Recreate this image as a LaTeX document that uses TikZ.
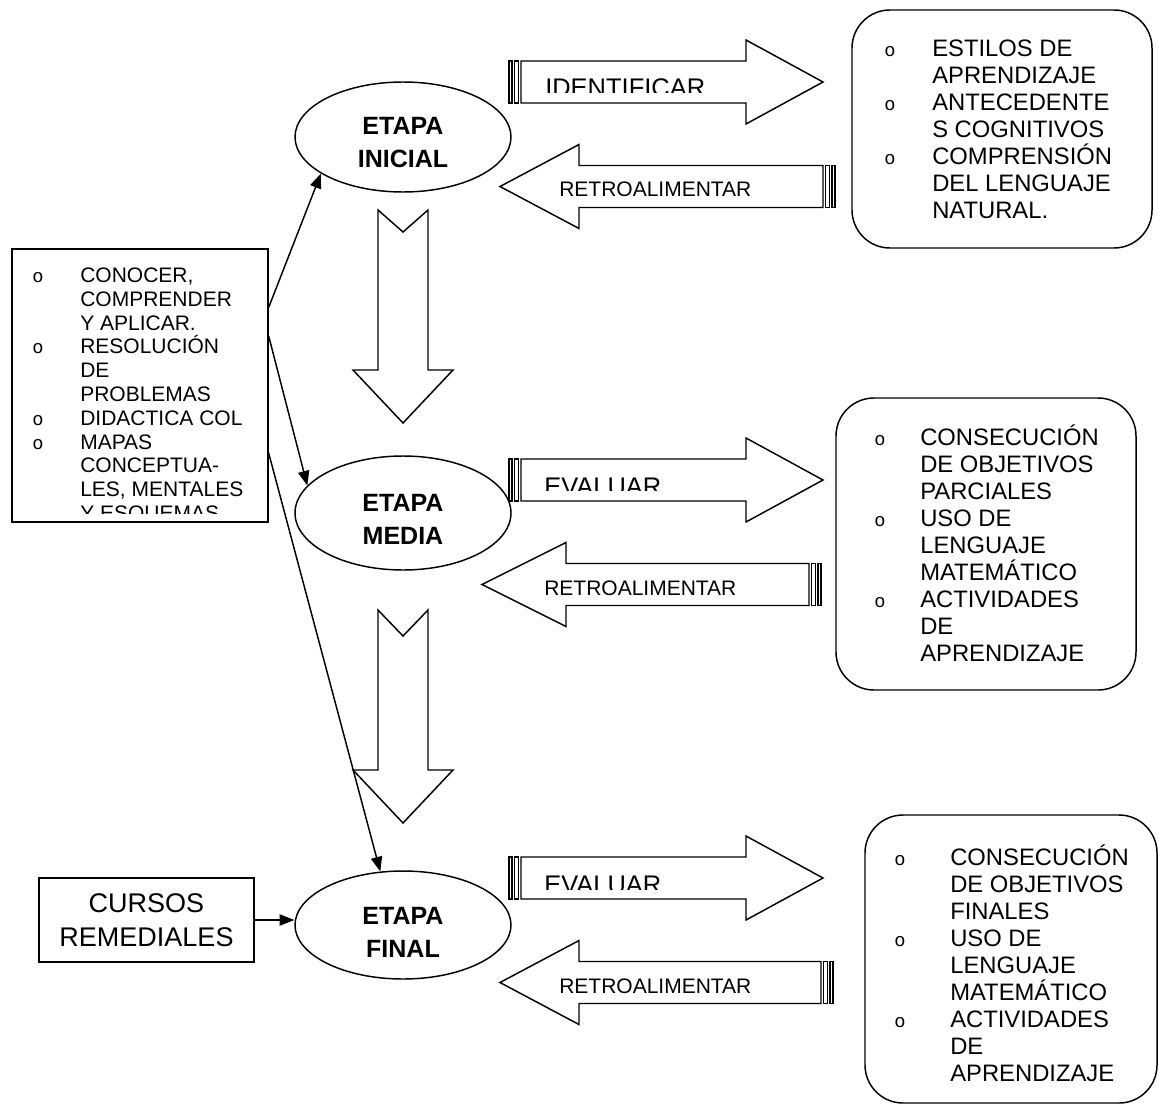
\documentclass[tikz,border=0pt]{standalone}
\usepackage{fontspec}
\setmainfont{Liberation Sans}
\newfontfamily\monof{Liberation Mono}
\usetikzlibrary{shapes.geometric,arrows.meta,calc}
\tikzset{
  ol/.style={line width=1.1pt, line join=miter},
  conn/.style={line width=1.1pt, -{Triangle[length=11pt,width=8.5pt]}},
  ell/.style={ellipse, draw, line width=1.1pt, inner sep=0pt, minimum width={216*0.75pt}},
  etxt/.style={anchor=base, inner sep=0pt, font=\bfseries\fontsize{18.75}{20}\selectfont},
  ltxt/.style={anchor=base west, inner sep=0pt, font=\fontsize{15.75}{18}\selectfont},
  rtxt/.style={anchor=base west, inner sep=0pt, font=\fontsize{17.85}{20}\selectfont},
  bul/.style={anchor=base, inner sep=0pt, font=\monof\fontsize{14}{16}\selectfont},
  labA/.style={anchor=base west, inner sep=0pt, font=\fontsize{19.1}{22}\selectfont},
  labB/.style={anchor=base west, inner sep=0pt, font=\fontsize{15.75}{18}\selectfont},
  rbox/.style={draw, line width=1.1pt, rounded corners=28.5pt, inner sep=0pt},
}
\newcommand\myRArrow[1]{%
  \draw[ol] (509,{#1-21}) rectangle (512,{#1+21});
  \draw[ol] (514.5,{#1-21}) rectangle (518.5,{#1+21});
  \draw[ol] (521,{#1-21}) -- (746,{#1-21}) -- (746,{#1-42}) -- (823,#1) -- (746,{#1+42}) -- (746,{#1+21}) -- (521,{#1+21}) -- cycle;}
\newcommand\myLArrow[4]{%
  \draw[ol] (#4,{#1-21}) -- (#3,{#1-21}) -- (#3,{#1-42}) -- (#2,#1) -- (#3,{#1+42}) -- (#3,{#1+21}) -- (#4,{#1+21}) -- cycle;
  \draw[ol] ({#4+2.5},{#1-21}) rectangle ({#4+6.5},{#1+21});
  \draw[ol] ({#4+9},{#1-21}) rectangle ({#4+12},{#1+21});}
\newcommand\myDArrow[2]{%
  \draw[ol] (378,#1) -- (403,{#1+#2}) -- (428,#1) -- (428,{#1+160}) -- (453,{#1+160}) -- (403,{#1+213}) -- (353,{#1+160}) -- (378,{#1+160}) -- cycle;}
\begin{document}
\begin{tikzpicture}[x=0.75pt,y=-0.75pt]
\useasboundingbox (0,0) rectangle (1159,1106);

% ---------- ellipses ----------
\node[ell, minimum height={110*0.75pt}] (e1) at (403,137) {};
\node[ell, minimum height={114*0.75pt}] (e2) at (403,513) {};
\node[ell, minimum height={108*0.75pt}] (e3) at (403,925) {};
\begin{scope}
  \clip (290,100) rectangle (520,167.5);
  \node[etxt] (e1a) at (403,134) {ETAPA};
  \node[etxt] (e1b) at (403,167) {INICIAL};
\end{scope}
\begin{scope}
  \clip (290,480) rectangle (520,543);
  \node[etxt] (e2a) at (403,511) {ETAPA};
  \node[etxt] (e2b) at (403,544) {MEDIA};
\end{scope}
\begin{scope}
  \clip (290,890) rectangle (520,957);
  \node[etxt] (e3a) at (403,924) {ETAPA};
  \node[etxt] (e3b) at (403,957) {FINAL};
\end{scope}

% ---------- down arrows ----------
\myDArrow{210}{22}
\myDArrow{610}{26}

% ---------- horizontal arrows ----------
\myRArrow{82}
\myRArrow{480}
\myRArrow{878}
\myLArrow{186.5}{500}{579}{823}
\myLArrow{584.5}{482}{566}{809}
\myLArrow{982.5}{500}{579}{821}

\begin{scope}
  \clip (521,61) rectangle (746,92);
  \node[labA] (id1) at (545,96.3) {IDENTIFICAR};
\end{scope}
\begin{scope}
  \clip (521,459) rectangle (746,490);
  \node[labA] (ev2) at (544,495.3) {EVALUAR};
\end{scope}
\begin{scope}
  \clip (521,857) rectangle (746,889);
  \node[labA] (ev3) at (544,893.3) {EVALUAR};
\end{scope}
\node[labB] (rt1) at (559,196.5) {RETROALIMENTAR};
\node[labB] (rt2) at (544,595.5) {RETROALIMENTAR};
\node[labB] (rt3) at (559,993.5) {RETROALIMENTAR};

% ---------- left box ----------
\node[draw, line width=1.1pt, inner sep=0pt, minimum width={256*0.75pt}, minimum height={273*0.75pt}] (lbox) at (140,385.5) {};
\begin{scope}
  \clip (12,249) rectangle (268,513);
  \foreach \t [count=\i from 0] in {{CONOCER,},{COMPRENDER},{Y APLICAR.},{RESOLUCIÓN},{DE},{PROBLEMAS},{DIDACTICA COL},{MAPAS},{CONCEPTUA-},{LES, MENTALES},{Y ESQUEMAS}}
    \node[ltxt] (lt\i) at (80,{282.5+23.8*\i}) {\t};
  \foreach \k in {0,3,6,7}
    \node[bul] (lo\k) at (38,{282.5+23.8*\k}) {o};
\end{scope}

% ---------- CURSOS REMEDIALES ----------
\node[draw, line width=1.1pt, minimum width={215*0.75pt}, minimum height={84*0.75pt}, align=center,
      font=\fontsize{20.25}{25.5}\selectfont] (cur) at (146.5,920) {CURSOS\\REMEDIALES};

% ---------- connectors ----------
\draw[conn] ($(lbox.north east)+(0,59)$) -- (e1.204.8);
\draw[conn] ($(lbox.north east)+(0,88)$) -- (e2.164.7);
\draw[conn] ($(lbox.north east)+(0,205)$) -- (e3.113.9);
\draw[conn] (cur.east) -- (cur.east -| e3.west);

% ---------- right boxes ----------
\node[rbox, minimum width={300*0.75pt}, minimum height={238*0.75pt}] (b1) at (1002,129) {};
\foreach \t [count=\i from 0] in {{ESTILOS DE},{APRENDIZAJE},{ANTECEDENTE},{S COGNITIVOS},{COMPRENSIÓN},{DEL LENGUAJE},{NATURAL.}}
  \node[rtxt] (b1t\i) at (932,{56.5+27*\i}) {\t};
\foreach \k in {0,2,4}
  \node[bul] (b1o\k) at (890,{56.5+27*\k}) {o};

\node[rbox, minimum width={300*0.75pt}, minimum height={292*0.75pt}] (b2) at (986,544) {};
\foreach \t [count=\i from 0] in {{CONSECUCIÓN},{DE OBJETIVOS},{PARCIALES},{USO DE},{LENGUAJE},{MATEMÁTICO},{ACTIVIDADES},{DE},{APRENDIZAJE}}
  \node[rtxt] (b2t\i) at (920,{445.5+27*\i}) {\t};
\foreach \k in {0,3,6}
  \node[bul] (b2o\k) at (880,{445.5+27*\k}) {o};

\node[rbox, minimum width={292*0.75pt}, minimum height={288*0.75pt}] (b3) at (1011,959) {};
\foreach \t [count=\i from 0] in {{CONSECUCIÓN},{DE OBJETIVOS},{FINALES},{USO DE},{LENGUAJE},{MATEMÁTICO},{ACTIVIDADES},{DE},{APRENDIZAJE}}
  \node[rtxt] (b3t\i) at (950,{865.5+27*\i}) {\t};
\foreach \k in {0,3,6}
  \node[bul] (b3o\k) at (900,{865.5+27*\k}) {o};
\end{tikzpicture}
\end{document}
